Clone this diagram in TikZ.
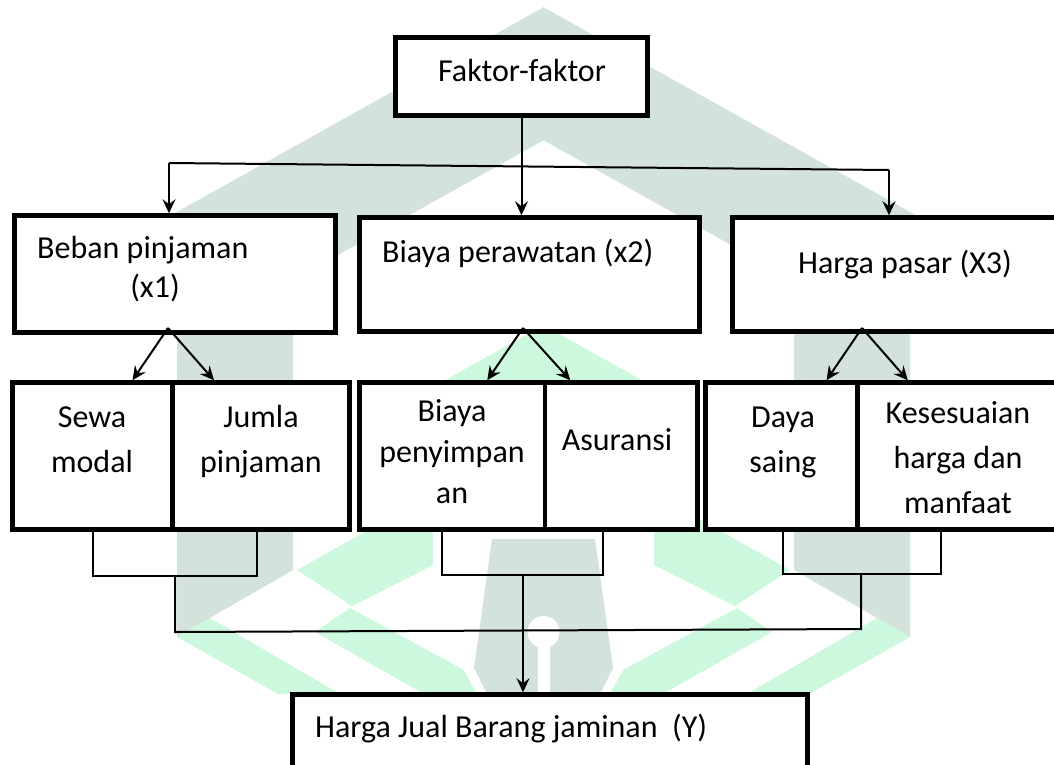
\documentclass[tikz,border=0pt]{standalone}
\usepackage{fontspec}
\setmainfont{Carlito}
\usetikzlibrary{arrows.meta}

\definecolor{wmgrey}{RGB}{211,227,219}
\definecolor{wmmint}{RGB}{204,249,222}

\tikzset{
  kotak/.style={draw, fill=white, line width=4.5pt, inner sep=0pt},
  teks/.style={font=\fontsize{32}{45}\selectfont, align=center, inner sep=0pt},
  garis/.style={line width=2pt},
}

\newcommand{\lambangkiri}{%
  \fill[wmgrey] (544,7) -- (544,140) -- (329,260) -- (91,260) -- cycle;
  \fill[wmgrey] (177,331) -- (293,331) -- (293,570) -- (177,637) -- cycle;
  \fill[wmgrey] (544,539) -- (492,539) -- (474,668) -- (487,694) -- (544,694) -- cycle;
  \fill[wmmint] (544,325) -- (544,383) -- (440,383) -- cycle;
  \fill[wmmint] (297,570) -- (386,520) -- (433,520) -- (433,565) -- (352,606) -- cycle;
  \fill[wmmint] (350,608) -- (464,670) -- (477,694) -- (424,694) -- (315,632) -- cycle;
  \fill[wmmint] (210,618) -- (340,694) -- (278,694) -- (177,637) -- cycle;
}

\begin{document}
\begin{tikzpicture}[x=1pt,y=-1pt,>={Stealth[length=14pt,width=13pt,inset=5pt]}]
\clip (0,0) rectangle (1054,764);
\lambangkiri
\begin{scope}[shift={(1087,0)},x=-1pt]
\lambangkiri
\end{scope}
\fill[white] (543.5,632) circle[radius=16pt];
\fill[white] (537.5,632) rectangle (549.5,694);

\node[kotak, minimum width=252pt, minimum height=78pt] (faktor) at (521.5,76.5) {};
\node[kotak, minimum width=321pt, minimum height=117pt] (beban) at (175,274) {};
\node[kotak, minimum width=340pt, minimum height=114pt] (biaya) at (529.5,274.5) {};
\node[kotak, minimum width=340pt, minimum height=114pt] (harga) at (902.5,274.5) {};
\node[kotak, minimum width=160pt, minimum height=147pt] (sewa) at (92.5,456) {};
\node[kotak, minimum width=177pt, minimum height=147pt] (jumla) at (261,456) {};
\node[kotak, minimum width=185.5pt, minimum height=147pt] (simpan) at (452.25,456) {};
\node[kotak, minimum width=152.5pt, minimum height=147pt] (asuransi) at (621.25,456) {};
\node[kotak, minimum width=152pt, minimum height=147pt] (daya) at (781.5,456) {};
\node[kotak, minimum width=212.5pt, minimum height=147pt] (sesuai) at (963.75,456) {};
\node[kotak, minimum width=515pt, minimum height=95pt] (jual) at (550,742) {};

\node[teks, anchor=base] (faktor-t) at (522,81) {Faktor-faktor};
\node[teks, anchor=base west] (beban-t) at (37,258) {Beban pinjaman};
\node[teks, anchor=base] (x1-t) at (155,297) {(x1)};
\node[teks, anchor=base west] (biaya-t) at (382,262) {Biaya perawatan (x2)};
\node[teks, anchor=base west] (harga-t) at (798,273) {Harga pasar (X3)};
\node[teks, anchor=base] (sewa-t) at (92,472) {Sewa\\modal};
\node[teks, anchor=base] (jumla-t) at (261,472) {Jumla\\pinjaman};
\node[teks, anchor=base] (simpan-t) at (452,503) {Biaya\\[-4pt]penyimpan\\[-4pt]an};
\node[teks, anchor=base] (asuransi-t) at (617,450) {Asuransi};
\node[teks, anchor=base] (daya-t) at (783,472) {Daya\\saing};
\node[teks, anchor=base] (sesuai-t) at (958,513) {Kesesuaian\\harga dan\\manfaat};
\node[teks, anchor=base west] (jual-t) at (315,737) {Harga Jual Barang jaminan\ \ (Y)};

\coordinate (hl) at (169,163);
\coordinate (hr) at (889,170);
\draw[garis] (hl) -- (hr);
\draw[garis,->] (hl) -- (hl |- beban.north);
\draw[garis,->] (hr) -- (hr |- harga.north);
\draw[garis,->] (faktor.south) -- (faktor.south |- biaya.north);

\coordinate (beban-b) at (168,328);
\coordinate (biaya-b) at (523,328);
\coordinate (harga-b) at (862,328);
\draw[garis,->] (beban-b) -- ([xshift=40pt]sewa.north);
\draw[garis,->] (beban-b) -- ([xshift=-47pt]jumla.north);
\draw[garis,->] (biaya-b) -- ([xshift=35pt]simpan.north);
\draw[garis,->] (biaya-b) -- ([xshift=-51pt]asuransi.north);
\draw[garis,->] (harga-b) -- ([xshift=45pt]daya.north);
\draw[garis,->] (harga-b) -- ([xshift=-56pt]sesuai.north);

\coordinate (kiri1) at (93,576);
\coordinate (kanan1) at (257,576);
\coordinate (kiri2) at (442,575);
\coordinate (kanan2) at (603,575);
\coordinate (kiri3) at (783,574);
\coordinate (kanan3) at (941,574);
\draw[garis] (kiri1 |- sewa.south) -- (kiri1) -- (kanan1) -- (kanan1 |- jumla.south);
\draw[garis] (kiri2 |- simpan.south) -- (kiri2) -- (kanan2) -- (kanan2 |- asuransi.south);
\draw[garis] (kiri3 |- daya.south) -- (kiri3) -- (kanan3) -- (kanan3 |- sesuai.south);

\coordinate (bawah-kiri) at (175,632);
\coordinate (bawah-kanan) at (861,629);
\draw[garis] (bawah-kiri |- kanan1) -- (bawah-kiri) -- (bawah-kanan) -- (bawah-kanan |- kanan3);
\coordinate (tengah) at (523,575);
\draw[line width=2.6pt,->] (tengah) -- (tengah |- jual.north);
\end{tikzpicture}
\end{document}
